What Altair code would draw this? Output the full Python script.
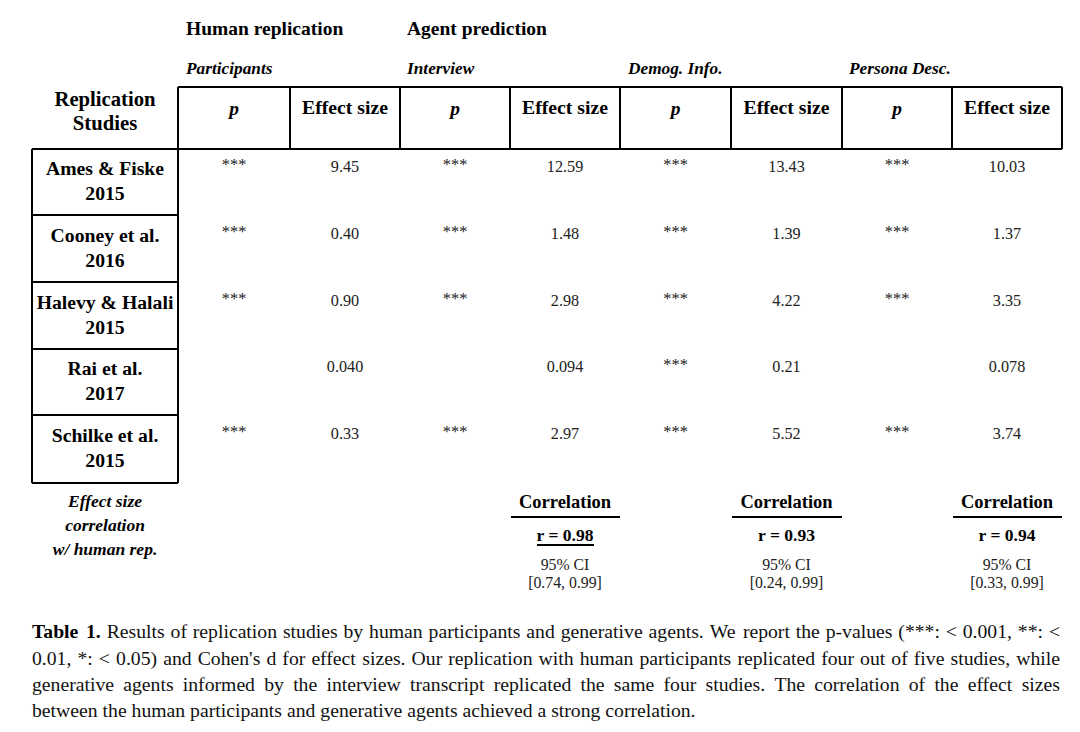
import altair as alt
import pandas as pd

# ---------------- data ----------------
groups = ["Human replication", "Agent prediction"]
conditions = ["Participants", "Interview", "Demog. Info.", "Persona Desc."]
col_headers = ["p", "Effect size"]
study_names = ["Ames & Fiske", "Cooney et al.", "Halevy & Halali", "Rai et al.", "Schilke et al."]
study_years = ["2015", "2016", "2015", "2017", "2015"]
p_participants = ["***", "***", "***", "", "***"]
es_participants = ["9.45", "0.40", "0.90", "0.040", "0.33"]
p_interview = ["***", "***", "***", "", "***"]
es_interview = ["12.59", "1.48", "2.98", "0.094", "2.97"]
p_demog = ["***", "***", "***", "***", "***"]
es_demog = ["13.43", "1.39", "4.22", "0.21", "5.52"]
p_persona = ["***", "***", "***", "", "***"]
es_persona = ["10.03", "1.37", "3.35", "0.078", "3.74"]
corr_r = ["0.98", "0.93", "0.94"]
ci_low = ["0.74", "0.24", "0.33"]
ci_high = ["0.99", "0.99", "0.99"]
row_label = ["Effect size", "correlation", "w/ human rep."]
stub_header = ["Replication", "Studies"]
caption_bold = "Table 1."
caption_lines = [
    "Results of replication studies by human participants and generative agents. We report the p-values (***: < 0.001, **: <",
    "0.01, *: < 0.05) and Cohen's d for effect sizes. Our replication with human participants replicated four out of five studies, while",
    "generative agents informed by the interview transcript replicated the same four studies. The correlation of the effect sizes",
    "between the human participants and generative agents achieved a strong correlation.",
]

# ---------------- layout (page pixels) ----------------
W, H = 1064, 716
col_edges = [178, 290, 400, 510, 620, 731, 842, 952, 1062]
row_edges = [149, 215, 282, 349, 415, 483]
head_top = 87
stub_left = 32
stub_cx = 105
col_cx = [(col_edges[i] + col_edges[i + 1]) / 2 for i in range(8)]
row_cy = [(row_edges[i] + row_edges[i + 1]) / 2 for i in range(5)]
cap_left, cap_right = 32, 1060
cap_y = [632, 659, 685, 711]
CAP_SIZE = 19.7

xs = alt.Scale(domain=[8, 8 + W], range=[0, W])
ys = alt.Scale(domain=[8, 8 + H], range=[0, H])
FONT = "Liberation Serif"

# Times-compatible advance widths (per 1000 em) for text justification
REG = {" ": 250, "!": 333, "'": 180, "(": 333, ")": 333, "*": 500, ",": 250, "-": 333,
       ".": 250, "/": 278, ":": 278, ";": 278, "<": 564, "=": 564, ">": 564, "?": 444, "%": 833}
REG.update({d: 500 for d in "0123456789"})
REG.update(dict(zip("ABCDEFGHIJKLMNOPQRSTUVWXYZ",
                    [722, 667, 667, 722, 611, 556, 722, 722, 333, 389, 722, 611, 889,
                     722, 722, 556, 722, 667, 556, 611, 722, 722, 944, 722, 722, 611])))
REG.update(dict(zip("abcdefghijklmnopqrstuvwxyz",
                    [444, 500, 444, 500, 444, 333, 500, 500, 278, 278, 500, 278, 778,
                     500, 500, 500, 500, 333, 389, 278, 500, 500, 722, 500, 500, 444])))
BOLD = dict(REG)
BOLD.update({"T": 667, "a": 500, "b": 556, "l": 278, "e": 444, "1": 500, ".": 250})


def word_w(w, table, size):
    return sum(table.get(c, 500) for c in w) * size / 1000.0


def rules(df, width=2):
    return alt.Chart(df).mark_rule(color="black", strokeWidth=width).encode(
        x=alt.X("x:Q", scale=xs, axis=None),
        x2="x2:Q",
        y=alt.Y("y:Q", scale=ys, axis=None),
        y2="y2:Q",
    )


def texts(df, size, weight="normal", style="normal", color="black", align="center"):
    return alt.Chart(df).mark_text(
        font=FONT, fontSize=size, fontWeight=weight, fontStyle=style,
        color=color, align=align, baseline="middle",
    ).encode(
        x=alt.X("x:Q", scale=xs, axis=None),
        y=alt.Y("y:Q", scale=ys, axis=None),
        text="t:N",
    )


# grid segments
seg = []
seg.append((col_edges[0], col_edges[-1], head_top, head_top))
seg.append((stub_left, col_edges[-1], row_edges[0], row_edges[0]))
for cx in col_edges:
    seg.append((cx, cx, head_top, row_edges[0]))
for ry in row_edges[1:]:
    seg.append((stub_left, col_edges[0], ry, ry))
seg.append((stub_left, stub_left, row_edges[0], row_edges[-1]))
seg.append((col_edges[0], col_edges[0], row_edges[0], row_edges[-1]))
for k in range(3):
    a, b = col_edges[3 + 2 * k], col_edges[4 + 2 * k]
    seg.append((a + 1, b, 517, 517))
seg.append((col_cx[3] - 28, col_cx[3] + 29, 545, 545))
seg_df = pd.DataFrame(seg, columns=["x", "x2", "y", "y2"])

# headers
grp_df = pd.DataFrame({"t": groups, "x": [186, 407], "y": [29, 29]})
cond_df = pd.DataFrame({"t": conditions, "x": [186, 407, 628, 849], "y": [69] * 4})
stub_df = pd.DataFrame({"t": stub_header, "x": [stub_cx] * 2, "y": [100, 124]})
ph_df = pd.DataFrame({"t": [col_headers[0]] * 4, "x": col_cx[0::2], "y": [109] * 4})
eh_df = pd.DataFrame({"t": [col_headers[1]] * 4, "x": col_cx[1::2], "y": [108] * 4})

name_df = pd.DataFrame({
    "t": study_names + study_years,
    "x": [stub_cx] * 10,
    "y": [c - 13 for c in row_cy] + [c + 12 for c in row_cy],
})

cells, stars = [], []
cols = [p_participants, es_participants, p_interview, es_interview,
        p_demog, es_demog, p_persona, es_persona]
for ci, colvals in enumerate(cols):
    for ri, v in enumerate(colvals):
        if not v:
            continue
        if ci % 2 == 0:
            stars.append({"t": v, "x": col_cx[ci], "y": row_cy[ri] - 17})
        else:
            cells.append({"t": v, "x": col_cx[ci], "y": row_cy[ri] - 15})
cell_df = pd.DataFrame(cells)
star_df = pd.DataFrame(stars)

rl_df = pd.DataFrame({"t": row_label, "x": [stub_cx] * 3, "y": [502, 526, 550]})
corr_x = col_cx[3::2]
corr_df = pd.DataFrame({"t": ["Correlation"] * 3, "x": corr_x, "y": [502] * 3})
r_df = pd.DataFrame({"t": ["r = " + r for r in corr_r], "x": corr_x, "y": [536] * 3})
ci_df = pd.DataFrame({
    "t": ["95% CI"] * 3 + [f"[{a}, {b}]" for a, b in zip(ci_low, ci_high)],
    "x": corr_x * 2,
    "y": [565] * 3 + [583] * 3,
})

# caption, justified word by word (last line left aligned)
bold_words, reg_words = [], []
for li, line in enumerate(caption_lines):
    words = [(w, True) for w in caption_bold.split(" ")] if li == 0 else []
    words += [(w, False) for w in line.split(" ")]
    widths = [word_w(w, BOLD if b else REG, CAP_SIZE) for w, b in words]
    if li < len(caption_lines) - 1:
        gap = (cap_right - cap_left - sum(widths)) / (len(words) - 1)
    else:
        gap = REG[" "] * CAP_SIZE / 1000.0
    x = cap_left
    for (w, b), wd in zip(words, widths):
        (bold_words if b else reg_words).append({"t": w, "x": x, "y": cap_y[li]})
        x += wd + gap
capb_df = pd.DataFrame(bold_words)
cap_df = pd.DataFrame(reg_words)

chart = alt.layer(
    rules(seg_df),
    texts(grp_df, 19.5, "bold", align="left"),
    texts(cond_df, 17.3, "bold", "italic", align="left"),
    texts(stub_df, 20.7, "bold"),
    texts(ph_df, 19.5, "bold", "italic"),
    texts(eh_df, 19.7, "bold"),
    texts(name_df, 19.7, "bold"),
    texts(cell_df, 16.2, color="#222222"),
    texts(star_df, 16.5, color="#222222"),
    texts(rl_df, 17.5, "bold", "italic"),
    texts(corr_df, 18.5, "bold"),
    texts(r_df, 17.5, "bold"),
    texts(ci_df, 15.8, color="#222222"),
    texts(capb_df, CAP_SIZE, "bold", align="left"),
    texts(cap_df, CAP_SIZE, color="#111111", align="left"),
).properties(
    width=W, height=H, padding=0,
    autosize=alt.AutoSizeParams(type="none"),
).configure(background="white").configure_view(stroke=None)

chart.save("out.html", embed_options={"renderer": "svg", "actions": False})
